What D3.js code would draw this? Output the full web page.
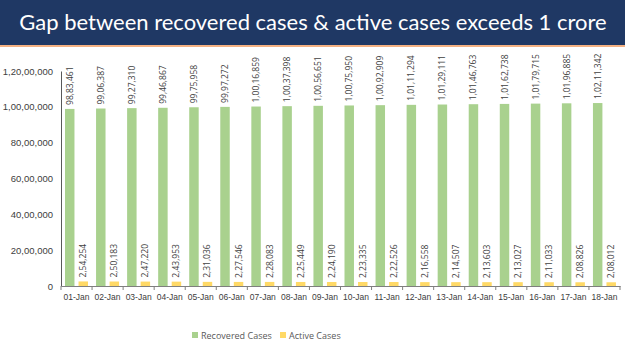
<!DOCTYPE html>
<html>
<head>
<meta charset="utf-8">
<script src="https://cdn.jsdelivr.net/npm/d3@7"></script>
<style>
  body { margin: 0; background: #fff; }
  svg { display: block; font-family: "Open Sans", "Noto Sans", sans-serif; }
</style>
</head>
<body>
<svg id="chart" width="625" height="351"></svg>
<script>
// data
const dates = ["01-Jan", "02-Jan", "03-Jan", "04-Jan", "05-Jan", "06-Jan", "07-Jan", "08-Jan", "09-Jan",
    "10-Jan", "11-Jan", "12-Jan", "13-Jan", "14-Jan", "15-Jan", "16-Jan", "17-Jan", "18-Jan"];
const recovered = [9883461, 9906387, 9927310, 9946867, 9975958, 9997272, 10016859, 10037398, 10056651,
    10075950, 10092909, 10111294, 10129111, 10146763, 10162738, 10179715, 10196885, 10211342];
const active = [254254, 250183, 247220, 243953, 231036, 227546, 228083, 225449, 224190,
    223335, 222526, 216558, 214507, 213603, 213027, 211033, 208826, 208012];
const yTicks = [0, 2000000, 4000000, 6000000, 8000000, 10000000, 12000000];
const seriesNames = ["Recovered Cases", "Active Cases"];
const seriesColors = ["#a9d18e", "#ffd966"];

// indian style grouping: 1,02,11,342
function inr(n) {
    let s = String(n);
    if (s.length <= 3) return s;
    let last3 = s.slice(-3);
    let rest = s.slice(0, -3);
    rest = rest.replace(/\B(?=(\d{2})+(?!\d))/g, ",");
    return rest + "," + last3;
}

const svg = d3.select("#chart");

// header band
svg.append("rect").attr("x", 0).attr("y", 0).attr("width", 625).attr("height", 45).attr("fill", "#1f3864");
svg.append("rect").attr("x", 0).attr("y", 45).attr("width", 625).attr("height", 2).attr("fill", "#f4b183");
svg.append("text")
    .attr("x", 313).attr("y", 30)
    .attr("text-anchor", "middle")
    .attr("fill", "#fff")
    .style("font-family", "Lato, 'Open Sans', sans-serif")
    .style("font-size", "22px")
    .text("Gap between recovered cases & active cases exceeds 1 crore");

//Scales:
const x = d3.scaleBand().domain(dates).range([61, 620]);
const xInner = d3.scaleBand().domain([0, 1]).range([4, 27]).paddingInner(0.3);
const y = d3.scaleLinear().domain([0, 12000000]).range([286, 71]);

// y axis
const yAxis = svg.append("g")
    .attr("transform", "translate(61,0)")
    .call(d3.axisLeft(y).tickValues(yTicks).tickFormat(inr).tickSize(0).tickPadding(8));
yAxis.select(".domain").attr("stroke", "#595959");
yAxis.selectAll("text").attr("fill", "#404040").style("font-size", "9.5px");

// x axis, ticks between categories
const xAxis = svg.append("g")
    .attr("transform", "translate(0,286)")
    .call(d3.axisBottom(x).tickSize(0).tickPadding(8));
xAxis.select(".domain").attr("stroke", "#7f7f7f");
xAxis.selectAll("text").attr("fill", "#404040").style("font-size", "8.5px");
xAxis.selectAll(".sep").data(dates.concat([null]))
    .join("line")
    .attr("class", "sep")
    .attr("x1", (d, i) => 61 + i * x.step())
    .attr("x2", (d, i) => 61 + i * x.step())
    .attr("y1", 0).attr("y2", 4)
    .attr("stroke", "#7f7f7f");

//Bars:
const rows = dates.map((d, i) => ({ date: d, vals: [recovered[i], active[i]] }));
const groups = svg.selectAll("g.day").data(rows)
    .join("g")
    .attr("class", "day")
    .attr("transform", d => `translate(${x(d.date)},0)`);

groups.selectAll("rect").data(d => d.vals)
    .join("rect")
    .attr("x", (v, j) => xInner(j))
    .attr("width", xInner.bandwidth())
    .attr("y", v => y(v))
    .attr("height", v => y(0) - y(v))
    .attr("fill", (v, j) => seriesColors[j]);

//Value labels, rotated:
groups.selectAll("text.val").data(d => d.vals)
    .join("text")
    .attr("class", "val")
    .attr("transform", (v, j) => `translate(${xInner(j) + xInner.bandwidth() / 2 + 3},${y(v) - 4}) rotate(-90)`)
    .attr("fill", "#404040")
    .style("font-size", "8.5px")
    .text(v => inr(v));

//Legend:
const legend = svg.append("g").attr("transform", "translate(192,331)");
const items = legend.selectAll("g").data(seriesNames)
    .join("g")
    .attr("transform", (d, i) => `translate(${i * 88},0)`);
items.append("rect").attr("width", 6).attr("height", 6).attr("y", 1).attr("fill", (d, i) => seriesColors[i]);
items.append("text").attr("x", 9).attr("y", 8)
    .attr("fill", "#595959")
    .style("font-size", "9px")
    .text(d => d);
</script>
</body>
</html>
